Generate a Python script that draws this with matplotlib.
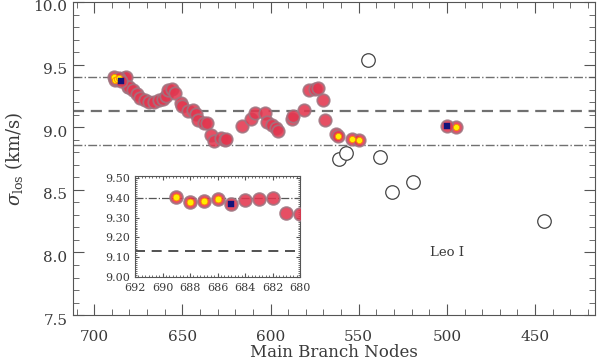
import numpy as np
import matplotlib
matplotlib.use('Agg')
from matplotlib import pyplot as plt
from matplotlib.ticker import MultipleLocator, FormatStrFormatter
from matplotlib.transforms import ScaledTranslation

plt.rcParams['font.family'] = ['DejaVu Serif']
plt.rcParams['mathtext.fontset'] = 'dejavuserif'

# red nodes (plain)
red_nodes = [684, 683, 682, 681, 680, 678, 676, 674, 671, 669, 666, 663, 661, 659,
             658, 656, 654, 651, 650, 647, 644, 642, 641, 638, 636, 634, 632, 628,
             626, 625, 616, 611, 609, 603, 602, 599, 597, 596, 588, 587, 581, 578,
             575, 573, 570, 569, 563]
red_sigma = [9.387, 9.392, 9.400, 9.323, 9.318, 9.300, 9.263, 9.237, 9.216, 9.203,
             9.205, 9.216, 9.229, 9.250, 9.295, 9.303, 9.270, 9.190, 9.171, 9.131,
             9.137, 9.105, 9.058, 9.032, 9.032, 8.934, 8.894, 8.915, 8.900, 8.908,
             9.013, 9.066, 9.113, 9.113, 9.040, 9.018, 8.992, 8.966, 9.066, 9.087,
             9.137, 9.295, 9.303, 9.310, 9.218, 9.060, 8.947]

# nodes marked yellow
yellow_nodes = [689, 688, 687, 686, 562, 554, 550, 495]
yellow_sigma = [9.403, 9.378, 9.385, 9.395, 8.926, 8.908, 8.900, 9.005]

# nodes marked blue
blue_nodes = [685, 500]
blue_sigma = [9.370, 9.013]

# open circles
open_nodes = [545, 561, 557, 538, 531, 519, 445]
open_sigma = [9.54, 8.75, 8.797, 8.763, 8.479, 8.566, 8.25]

sigma_mean = 9.13
sigma_hi = 9.40
sigma_lo = 8.86

red_face = '#e3364f'
red_edge = '#a07480'
txt = '#3a3a3a'

fig = plt.figure(figsize=(6.0, 3.63), dpi=100)
ax = fig.add_axes([0.1217, 0.132, 0.87, 0.8625])


def draw_points(a, s_big, s_small):
    a.scatter(red_nodes, red_sigma, s=s_big, c=red_face, edgecolors=red_edge,
              linewidths=1.3, alpha=0.88, zorder=3)
    a.scatter(yellow_nodes, yellow_sigma, s=s_big, c=red_face, edgecolors=red_edge,
              linewidths=1.3, alpha=0.88, zorder=4)
    a.scatter(yellow_nodes, yellow_sigma, s=s_small, c='#ffee00', edgecolors='#ff8800',
              linewidths=0.6, zorder=5)
    a.scatter(blue_nodes, blue_sigma, s=s_big, c=red_face, edgecolors=red_edge,
              linewidths=1.3, alpha=0.88, zorder=4)
    a.scatter(blue_nodes, blue_sigma, s=s_small, c='#14147a', marker='s',
              edgecolors='#14147a', linewidths=0.3, zorder=5)


ax.axhline(sigma_hi, color='#707070', lw=1.0, ls='-.', zorder=1)
ax.axhline(sigma_lo, color='#707070', lw=1.0, ls='-.', zorder=1)
ax.axhline(sigma_mean, color='#707070', lw=1.6, ls=(0, (5, 3)), zorder=1)

draw_points(ax, 80, 20)
ax.scatter(open_nodes, open_sigma, s=95, facecolors='white', edgecolors='#444444',
           linewidths=0.9, zorder=3)

ax.text(500, 8.0, 'Leo I', ha='center', va='center', fontsize=9.5, color=txt)

ax.set_xlim(712, 416)
ax.set_ylim(7.5, 10.0)
ax.xaxis.set_major_locator(MultipleLocator(50))
ax.xaxis.set_minor_locator(MultipleLocator(10))
ax.yaxis.set_major_locator(MultipleLocator(0.5))
ax.yaxis.set_minor_locator(MultipleLocator(0.1))
ax.yaxis.set_major_formatter(FormatStrFormatter('%.1f'))
ax.tick_params(which='both', direction='in', top=True, right=True, labelsize=11,
               color='#555555', labelcolor=txt)
ax.tick_params(which='major', length=8)
ax.tick_params(which='minor', length=4)
ax.tick_params(axis='x', pad=11)
ax.tick_params(axis='y', pad=4)
shift = ScaledTranslation(0, -4 / 100, fig.dpi_scale_trans)
for lab in ax.get_yticklabels():
    lab.set_transform(lab.get_transform() + shift)
for sp in ax.spines.values():
    sp.set_color('#555555')
ax.set_xlabel('Main Branch Nodes', fontsize=12, color=txt, labelpad=0)
ax.set_ylabel(r'$\sigma_{\rm los}$ (km/s)', fontsize=13, color=txt, labelpad=6)

# inset
ins = fig.add_axes([0.225, 0.237, 0.275, 0.278])
ins.axhline(sigma_hi, color='#555555', lw=0.9, ls='-.', zorder=1)
ins.axhline(sigma_mean, color='#333333', lw=1.2, ls=(0, (6, 4)), zorder=1)
draw_points(ins, 85, 24)
ins.set_xlim(692, 680)
ins.set_ylim(9.0, 9.51)
ins.xaxis.set_major_locator(MultipleLocator(2))
ins.xaxis.set_minor_locator(MultipleLocator(0.25))
ins.yaxis.set_major_locator(MultipleLocator(0.1))
ins.yaxis.set_minor_locator(MultipleLocator(0.01))
ins.yaxis.set_major_formatter(FormatStrFormatter('%.2f'))
ins.tick_params(which='both', direction='in', top=True, right=True, labelsize=8,
                color='#555555', labelcolor=txt)
ins.tick_params(which='major', length=3)
ins.tick_params(which='minor', length=1.5)
ins.tick_params(axis='x', pad=4)
for sp in ins.spines.values():
    sp.set_color('#555555')

fig.savefig('out.png', dpi=100)
